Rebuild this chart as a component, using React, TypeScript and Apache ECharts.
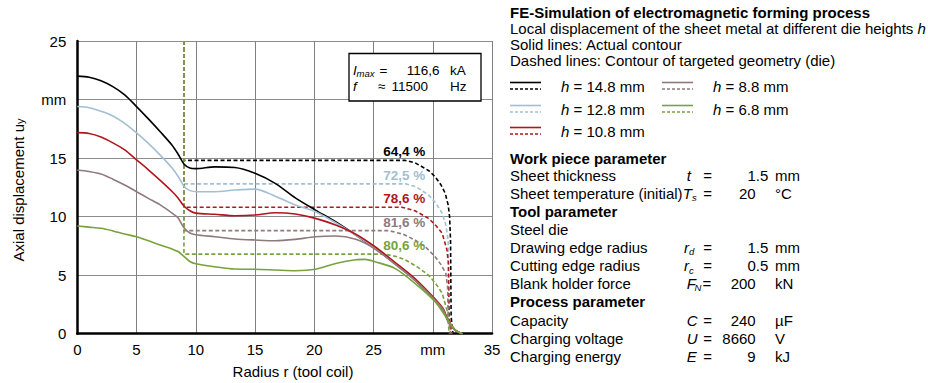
import React, { useEffect, useRef } from "react";
import * as echarts from "echarts";

const FONT = "'Liberation Sans', Arial, Helvetica, sans-serif";

const heights = [14.8, 12.8, 10.8, 8.8, 6.8];
const seriesNames = ["h = 14.8 mm", "h = 12.8 mm", "h = 10.8 mm", "h = 8.8 mm", "h = 6.8 mm"];
const colors = ["#000000", "#a3bfd2", "#b2161c", "#8f7a7c", "#78a33c"];
const pctLabels = ["64,4 %", "72,5 %", "78,6 %", "81,6 %", "80,6 %"];
const xTickLabels = ["0", "5", "10", "15", "20", "25", "mm", "35"];
const yTickLabels = ["0", "5", "10", "15", "mm", "25"];

// Solid lines: actual contour (r [mm], u_y [mm])
const solid148: [number, number][] = [
  [0, 22.0], [1, 21.9], [2, 21.6], [3, 21.1], [4, 20.4], [5, 19.4], [6, 18.35], [7, 17.25], [8, 16.1],
  [8.5, 15.35], [9, 14.5], [9.5, 14.15], [10, 14.1], [11.6, 14.25], [13.3, 14.2], [15, 13.7], [16.7, 12.84],
  [18.4, 11.6], [20.1, 10.56], [21.8, 9.56], [23.5, 8.43], [25.1, 7.3], [26.8, 6.0], [28.5, 4.58],
  [30.2, 2.88], [30.9, 2.0], [31.2, 1.3], [31.9, 0.3], [32.5, 0],
];
const solid128: [number, number][] = [
  [0, 19.4], [1, 19.3], [2, 19.0], [3, 18.6], [4, 17.97], [5, 17.15], [6, 16.25], [7, 15.25], [8, 14.15],
  [8.5, 13.45], [9, 12.6], [9.5, 12.22], [10.1, 12.13], [11.6, 12.13], [13.3, 12.27], [15, 12.35], [16.7, 11.75],
  [18.4, 11.0], [20.1, 10.42], [21.8, 9.48], [23.5, 8.43], [25.1, 7.35], [26.8, 6.05], [28.5, 4.65],
  [30.2, 2.95], [30.9, 2.1], [31.3, 1.1], [31.9, 0.3], [32.5, 0],
];
const solid108: [number, number][] = [
  [0, 17.17], [1, 17.1], [2, 16.8], [3, 16.3], [4, 15.7], [5, 14.85], [6, 14.0], [7, 13.1], [8, 12.15],
  [8.5, 11.6], [9, 10.9], [9.5, 10.5], [10, 10.3], [11.6, 10.2], [13.3, 10.08], [15, 10.14], [16.7, 10.33],
  [18.4, 10.22], [20.1, 9.85], [21.8, 9.28], [23.5, 8.5], [25.1, 7.45], [26.8, 6.1], [28.5, 4.7],
  [30.2, 2.95], [30.9, 2.1], [31.3, 1.1], [31.9, 0.3], [32.5, 0],
];
const solid88: [number, number][] = [
  [0, 13.98], [1, 13.85], [2, 13.64], [3, 13.2], [4, 12.7], [5, 12.13], [6, 11.56], [7, 11.0], [8, 10.3],
  [8.5, 9.9], [9, 9.05], [9.5, 8.6], [10, 8.45], [11.6, 8.28], [13.3, 8.09], [15, 8.0], [16.7, 7.94],
  [18.4, 8.06], [20.1, 8.28], [21.8, 8.34], [23.5, 8.06], [25.1, 7.25], [26.8, 5.95], [28.5, 4.55],
  [30.2, 2.85], [30.9, 2.0], [31.3, 1.0], [31.9, 0.3], [32.5, 0],
];
const solid68: [number, number][] = [
  [0, 9.2], [1, 9.1], [2, 9.0], [3, 8.78], [4, 8.51], [5, 8.28], [6, 7.94], [7, 7.57], [8, 7.23],
  [8.5, 7.02], [9, 6.6], [9.5, 6.17], [10, 5.97], [11.6, 5.72], [13.3, 5.52], [15, 5.5], [16.7, 5.44],
  [18.4, 5.38], [20.1, 5.5], [21.8, 6.0], [23.5, 6.32], [24.3, 6.35], [25.1, 6.15], [26.8, 5.58],
  [28.5, 4.3], [30.2, 2.73], [31.1, 1.45], [31.9, 0.3], [32.5, 0],
];

// Dashed lines: contour of targeted geometry (die)
const dashed148: [number, number][] = [
  [9, 25], [9, 14.8], [27.7, 14.8], [28.5, 14.6], [29.1, 14.26], [29.7, 13.9], [30.2, 13.4], [30.7, 12.7],
  [31.05, 12.0], [31.3, 11.0], [31.42, 10.0], [31.5, 8.0], [31.55, 1.5], [31.7, 0],
];
const dashed128: [number, number][] = [
  [9, 25], [9, 12.8], [27.7, 12.8], [28.6, 12.55], [29.65, 11.84], [30.3, 11.1], [30.8, 10.28],
  [31.1, 9.3], [31.3, 8.0], [31.38, 1.5], [31.6, 0],
];
const dashed108: [number, number][] = [
  [9, 25], [9, 10.8], [27.4, 10.8], [28.5, 10.5], [29.65, 9.85], [30.3, 9.2], [30.8, 8.57],
  [31.2, 7.15], [31.32, 6.0], [31.38, 1.5], [31.6, 0],
];
const dashed88: [number, number][] = [
  [9, 25], [9, 8.8], [26.3, 8.8], [27.5, 8.5], [28.5, 8.0], [29.4, 7.4], [30.2, 6.58], [30.7, 5.9],
  [31.1, 5.16], [31.25, 4.0], [31.3, 1.5], [31.5, 0],
];
const dashed68: [number, number][] = [
  [9, 25], [9, 6.8], [25.9, 6.8], [26.9, 6.6], [27.7, 6.3], [28.7, 5.7], [29.65, 5.0], [30.3, 4.2],
  [30.8, 3.45], [31.2, 2.0], [31.3, 1.0], [31.4, 0],
];

const solidData = [solid148, solid128, solid108, solid88, solid68];
const dashedData = [dashed148, dashed128, dashed108, dashed88, dashed68];

// Parameter table text
const infoLines = [
  { y: 12.3, text: "FE-Simulation of electromagnetic forming process", bold: true },
  { y: 28.3, text: "Local displacement of the sheet metal at different die heights {i|h}" },
  { y: 44.7, text: "Solid lines: Actual contour" },
  { y: 60.3, text: "Dashed lines: Contour of targeted geometry (die)" },
];
const paramRows = [
  { y: 158.3, label: "Work piece parameter", bold: true },
  { y: 175.7, label: "Sheet thickness", sym: "t", sub: "", val: "1.5", unit: "mm", dec: true },
  { y: 193.3, label: "Sheet temperature (initial)", sym: "T", sub: "s", val: "20", unit: "°C" },
  { y: 211.7, label: "Tool parameter", bold: true },
  { y: 229.3, label: "Steel die" },
  { y: 247.3, label: "Drawing edge radius", sym: "r", sub: "d", val: "1.5", unit: "mm", dec: true },
  { y: 265.7, label: "Cutting edge radius", sym: "r", sub: "c", val: "0.5", unit: "mm", dec: true },
  { y: 283.3, label: "Blank holder force", sym: "F", sub: "N", val: "200", unit: "kN" },
  { y: 301.7, label: "Process parameter", bold: true },
  { y: 320, label: "Capacity", sym: "C", sub: "", val: "240", unit: "µF" },
  { y: 338.3, label: "Charging voltage", sym: "U", sub: "", val: "8660", unit: "V" },
  { y: 356, label: "Charging energy", sym: "E", sub: "", val: "9", unit: "kJ" },
];

function txt(x: number, y: number, text: string, extra: any = {}) {
  return {
    type: "text",
    x,
    y,
    silent: true,
    style: {
      text,
      fontFamily: FONT,
      fontSize: 15,
      fill: "#000",
      align: "left",
      verticalAlign: "middle",
      ...extra,
    },
  };
}

export default function App() {
  const ref = useRef<HTMLDivElement>(null);

  useEffect(() => {
    if (!ref.current) return;
    const chart = echarts.init(ref.current, null, { renderer: "svg" });

    const series: any[] = [];
    solidData.forEach((d, i) => {
      series.push({
        name: seriesNames[i],
        type: "line",
        data: d,
        smooth: 0.3,
        showSymbol: false,
        symbol: "none",
        lineStyle: { color: colors[i], width: 1.6 },
        itemStyle: { color: colors[i] },
        z: 3,
      });
    });
    dashedData.forEach((d, i) => {
      series.push({
        name: seriesNames[i] + " die",
        type: "line",
        data: d,
        smooth: false,
        showSymbol: false,
        symbol: "none",
        lineStyle: { color: colors[i], width: 1.6, type: [4, 2.5] },
        itemStyle: { color: colors[i] },
        z: 2,
        markPoint: {
          symbol: "circle",
          symbolSize: 1,
          itemStyle: { color: "rgba(0,0,0,0)" },
          label: {
            show: true,
            position: "inside",
            formatter: pctLabels[i],
            fontFamily: FONT,
            fontSize: 13.5,
            fontWeight: "bold",
            color: colors[i],
          },
          data: [{ coord: [27.6, heights[i] + 0.72] }],
        },
      });
    });

    const graphic: any[] = [];
    // axis names
    graphic.push({
      type: "text",
      x: 18,
      y: 190,
      rotation: Math.PI / 2,
      silent: true,
      style: {
        text: "Axial displacement u{s|y}",
        fontFamily: FONT,
        fontSize: 15,
        fill: "#000",
        align: "center",
        verticalAlign: "middle",
        rich: {
          s: { fontFamily: FONT, fontSize: 11, verticalAlign: "bottom", lineHeight: 10 },
        },
      },
    });
    graphic.push(txt(293, 371.7, "Radius r (tool coil)", { align: "center" }));

    // annotation box
    graphic.push({
      type: "rect",
      shape: { x: 349, y: 53.5, width: 132, height: 47.5 },
      style: { fill: "#fff", stroke: "#000", lineWidth: 1.3 },
      z: 10,
    });
    const bz = { z: 11 };
    graphic.push({ ...txt(353, 70, "I", { fontSize: 13.5, fontStyle: "italic" }), ...bz });
    graphic.push({ ...txt(356.5, 73.5, "max", { fontSize: 9.5, fontStyle: "italic" }), ...bz });
    graphic.push({ ...txt(379.5, 70, "=", { fontSize: 13.5 }), ...bz });
    graphic.push({ ...txt(439.5, 70, "116,6", { fontSize: 13.5, align: "right" }), ...bz });
    graphic.push({ ...txt(450, 70, "kA", { fontSize: 13.5 }), ...bz });
    graphic.push({ ...txt(353, 86.7, "f", { fontSize: 13.5, fontStyle: "italic" }), ...bz });
    graphic.push({ ...txt(378, 86.7, "≈", { fontSize: 13.5 }), ...bz });
    graphic.push({ ...txt(428, 86.7, "11500", { fontSize: 13.5, align: "right" }), ...bz });
    graphic.push({ ...txt(450, 86.7, "Hz", { fontSize: 13.5 }), ...bz });

    // right panel header
    infoLines.forEach((l) => {
      graphic.push(
        txt(510, l.y, l.text, {
          fontWeight: l.bold ? "bold" : "normal",
          rich: { i: { fontFamily: FONT, fontSize: 15, fontStyle: "italic" } },
        })
      );
    });

    // legend
    const legendPos = [
      { x: 510, y: 86.5, tx: 561 },
      { x: 510, y: 109.5, tx: 561 },
      { x: 510, y: 131.5, tx: 561 },
      { x: 662, y: 86.5, tx: 713 },
      { x: 662, y: 109.5, tx: 713 },
    ];
    [0, 1, 2, 3, 4].forEach((si, k) => {
      const p = legendPos[k];
      graphic.push({
        type: "line",
        silent: true,
        shape: { x1: p.x, y1: p.y - 4, x2: p.x + 31, y2: p.y - 4 },
        style: { stroke: colors[si], lineWidth: 1.6 },
      });
      graphic.push({
        type: "line",
        silent: true,
        shape: { x1: p.x, y1: p.y + 2.5, x2: p.x + 31, y2: p.y + 2.5 },
        style: { stroke: colors[si], lineWidth: 1.4, lineDash: [3, 2] },
      });
      graphic.push(
        txt(p.tx, p.y, "{i|h}" + seriesNames[si].slice(1), {
          rich: { i: { fontFamily: FONT, fontSize: 15, fontStyle: "italic" } },
        })
      );
    });

    // parameter table
    paramRows.forEach((r: any) => {
      graphic.push(txt(510, r.y, r.label, { fontWeight: r.bold ? "bold" : "normal" }));
      if (!r.sym) return;
      const symX = r.sym === "T" ? 682.7 : r.sym === "r" ? 684 : 686.7;
      graphic.push(txt(symX, r.y, r.sym, { fontStyle: "italic" }));
      if (r.sub) {
        const subX = r.sym === "T" ? 692 : r.sym === "r" ? 689 : 694.5;
        graphic.push(txt(subX, r.y + 4.5, r.sub, { fontStyle: "italic", fontSize: 9.5 }));
      }
      const eqX = r.sym === "F" ? 702.5 : 703.3;
      graphic.push(txt(eqX, r.y, "="));
      graphic.push(txt(r.dec ? 768.3 : 755.7, r.y, r.val, { align: "right" }));
      graphic.push(txt(775, r.y, r.unit));
    });

    chart.setOption({
      animation: false,
      backgroundColor: "#ffffff",
      grid: { left: 77.3, right: 436, top: 41, bottom: 49.3 },
      xAxis: {
        type: "value",
        min: 0,
        max: 35,
        interval: 5,
        axisLine: { show: true, onZero: false, lineStyle: { color: "#000", width: 2.5 } },
        axisTick: { show: false },
        axisLabel: {
          color: "#000",
          fontFamily: FONT,
          fontSize: 15,
          margin: 8,
          formatter: (v: number) => xTickLabels[Math.round(v / 5)] ?? "",
        },
        splitLine: { show: true, lineStyle: { color: "#808080", width: 1 } },
      },
      yAxis: {
        type: "value",
        min: 0,
        max: 25,
        interval: 5,
        axisLine: { show: true, onZero: false, lineStyle: { color: "#000", width: 2.5 } },
        axisTick: { show: false },
        axisLabel: {
          color: "#000",
          fontFamily: FONT,
          fontSize: 15,
          margin: 11,
          formatter: (v: number) => yTickLabels[Math.round(v / 5)] ?? "",
        },
        splitLine: { show: true, lineStyle: { color: "#8c8c8c", width: 1 } },
      },
      series,
      graphic,
    });

    return () => chart.dispose();
  }, []);

  return (
    <div
      ref={ref}
      style={{ position: "absolute", left: 0, top: 0, width: 928, height: 383, background: "#fff" }}
    />
  );
}
